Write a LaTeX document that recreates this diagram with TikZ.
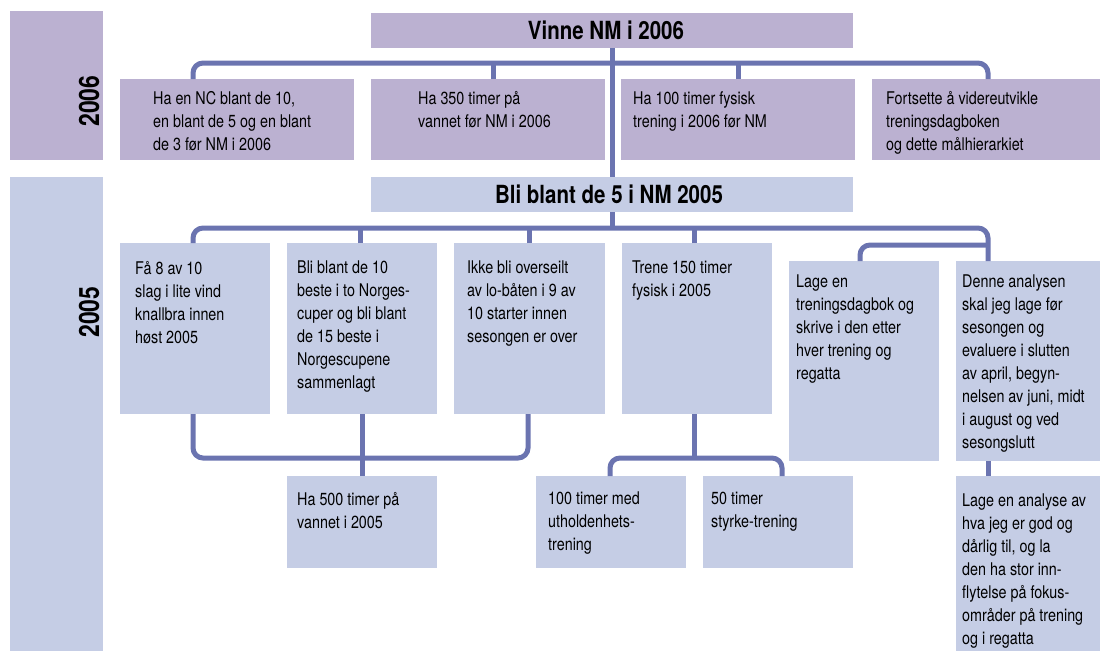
\documentclass[tikz,border=0pt]{standalone}
\usepackage{fontspec}
\setmainfont{TeX Gyre Heros}[FakeStretch=0.82]
\definecolor{purp}{RGB}{187,177,209}
\definecolor{blu}{RGB}{197,205,229}
\definecolor{lin}{RGB}{107,116,176}
\begin{document}
\begin{tikzpicture}[x=1pt,y=-1pt,
  box/.style={anchor=north west,inner sep=0,outer sep=0,draw=none},
  pbox/.style={box,fill=purp},
  bbox/.style={box,fill=blu},
  txt/.style={anchor=north west,inner sep=0,align=left,font=\fontsize{17.5}{23}\selectfont},
  ttl/.style={font=\fontsize{25}{28}\selectfont\bfseries},
  yr/.style={rotate=90,font=\fontsize{28}{30}\selectfont\bfseries},
  conn/.style={draw=lin,line width=5pt,rounded corners=10pt}]
\useasboundingbox (0,0) rectangle (1100,651);
% year columns
\node[pbox,minimum width=93pt,minimum height=149pt] (y6box) at (10,11) {};
\node[bbox,minimum width=93pt,minimum height=474pt] (y5box) at (10,177) {};
\node[yr] (y6) at (89,101) {2006};
\node[yr] (y5) at (89,312) {2005};
% main goals
\node[pbox,minimum width=482pt,minimum height=35pt] (top) at (371,13) {};
\node[ttl] (topt) at ([xshift=-6pt]top.center) {Vinne NM i 2006};
\node[bbox,minimum width=482pt,minimum height=35pt] (bli) at (371,177) {};
\node[ttl] (blit) at ([xshift=-3pt]bli.center) {Bli blant de 5 i NM 2005};
% 2006 row
\node[pbox,minimum width=234pt,minimum height=81pt] (b1) at (120,79) {};
\node[pbox,minimum width=234pt,minimum height=81pt] (b2) at (371,79) {};
\node[pbox,minimum width=234pt,minimum height=81pt] (b3) at (621,79) {};
\node[pbox,minimum width=228pt,minimum height=81pt] (b4) at (872,79) {};
\node[txt] (b1t) at (153,91) {Ha en NC blant de 10,\\en blant de 5 og en blant\\de 3 før NM i 2006};
\node[txt] (b2t) at (418,91) {Ha 350 timer på\\vannet før NM i 2006};
\node[txt] (b3t) at (633,91) {Ha 100 timer fysisk\\trening i 2006 før NM};
\node[txt] (b4t) at (886,91) {Fortsette å videreutvikle\\treningsdagboken\\og dette målhierarkiet};
% 2005 row
\node[bbox,minimum width=150pt,minimum height=171pt] (A) at (120,243) {};
\node[bbox,minimum width=150pt,minimum height=171pt] (B) at (287,243) {};
\node[bbox,minimum width=151pt,minimum height=171pt] (C) at (454,243) {};
\node[bbox,minimum width=150pt,minimum height=171pt] (D) at (622,243) {};
\node[bbox,minimum width=150pt,minimum height=200pt] (E) at (789,261) {};
\node[bbox,minimum width=144pt,minimum height=200pt] (F) at (956,261) {};
\node[txt] (At) at (135,261) {Få 8 av 10\\slag i lite vind\\knallbra innen\\høst 2005};
\node[txt] (Bt) at (297,261) {Bli blant de 10\\beste i to Norges-\\cuper og bli blant\\de 15 beste i\\Norgescupene\\sammenlagt};
\node[txt] (Ct) at (467,261) {Ikke bli overseilt\\av lo-båten i 9 av\\10 starter innen\\sesongen er over};
\node[txt] (Dt) at (632,261) {Trene 150 timer\\fysisk i 2005};
\node[txt] (Et) at (796,275) {Lage en\\treningsdagbok og\\skrive i den etter\\hver trening og\\regatta};
\node[txt] (Ft) at (962,275) {Denne analysen\\skal jeg lage før\\sesongen og\\evaluere i slutten\\av april, begyn-\\nelsen av juni, midt\\i august og ved\\sesongslutt};
% bottom row
\node[bbox,minimum width=150pt,minimum height=92pt] (H) at (287,476) {};
\node[bbox,minimum width=150pt,minimum height=92pt] (U) at (536,476) {};
\node[bbox,minimum width=150pt,minimum height=92pt] (S) at (703,476) {};
\node[bbox,minimum width=144pt,minimum height=175pt] (G) at (956,476) {};
\node[txt] (Ht) at (297,492) {Ha 500 timer på\\vannet i 2005};
\node[txt] (Ut) at (548,492) {100 timer med\\utholdenhets-\\trening};
\node[txt] (St) at (711,492) {50 timer\\styrke-trening};
\node[txt] (Gt) at (962,494) {Lage en analyse av\\hva jeg er god og\\dårlig til, og la\\den ha stor inn-\\flytelse på fokus-\\områder på trening\\og i regatta};
% connectors
\coordinate (t1) at (193,63);
\coordinate (t2) at (988,63);
\draw[conn] (b1.north west -| t1) -- (t1) -- (t2) -- (b4.north west -| t2);
\draw[conn] ([xshift=5pt]b2.north) -- ([xshift=5pt]b2.north |- t1);
\draw[conn] (b3.north) -- (b3.north |- t1);
\draw[conn] (top.south) -- (bli.north);
\coordinate (u1) at (193,228);
\coordinate (u2) at (988,228);
\draw[conn] (A.north west -| u1) -- (u1) -- (u2) -- (F.north west -| u2);
\draw[conn] (bli.south) -- (bli.south |- u1);
\draw[conn] ([xshift=-2pt]B.north) -- ([xshift=-2pt]B.north |- u1);
\draw[conn] (C.north) -- (C.north |- u1);
\draw[conn] ([xshift=-3pt]D.north) -- ([xshift=-3pt]D.north |- u1);
\coordinate (e1) at (988,245);
\coordinate (e2) at (860,245);
\draw[conn] (e1) -- (e2) -- (E.north west -| e2);
\coordinate (l1) at (193,458);
\coordinate (l2) at (528,458);
\draw[conn] (A.south west -| l1) -- (l1) -- (l2) -- (C.south -| l2);
\draw[conn] (B.south) -- (H.north);
\coordinate (m1) at (610,458);
\coordinate (m2) at (782,458);
\draw[conn] (U.north -| m1) -- (m1) -- (m2) -- (S.north -| m2);
\draw[conn] ([xshift=-3pt]D.south) -- ([xshift=-3pt]D.south |- m1);
\draw[conn] (F.south -| u2) -- (G.north -| u2);
\end{tikzpicture}
\end{document}
